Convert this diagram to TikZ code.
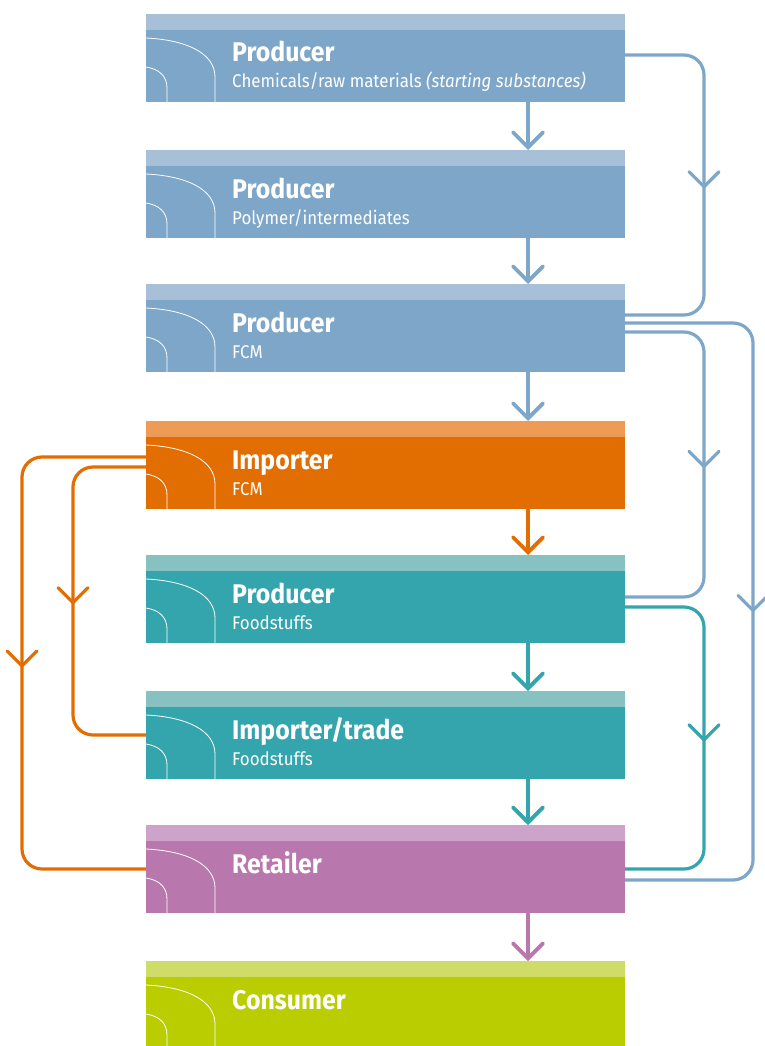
\documentclass[tikz,border=0pt]{standalone}
\usepackage{fontspec}
\setmainfont{Fira Sans}[FakeStretch=0.92]
\usetikzlibrary{arrows.meta, positioning, calc, decorations.markings}
\definecolor{blueMain}{HTML}{7EA6C8}
\definecolor{blueTop}{HTML}{A8BFD8}
\definecolor{orangeMain}{HTML}{E26D00}
\definecolor{orangeTop}{HTML}{EE9B55}
\definecolor{tealMain}{HTML}{34A5AD}
\definecolor{tealTop}{HTML}{88C1C2}
\definecolor{purpleMain}{HTML}{B878AE}
\definecolor{purpleTop}{HTML}{CDA3CA}
\definecolor{greenMain}{HTML}{B9CD00}
\definecolor{greenTop}{HTML}{CFDC6A}

\begin{document}
\begin{tikzpicture}[
    x=1pt, y=-1pt,
    stage/.style 2 args={inner sep=0pt, outer sep=0pt, minimum width=479pt, minimum height=88pt, anchor=north west, fill=#1,
        path picture={\fill[#2] (path picture bounding box.north west) rectangle ([yshift=-16pt]path picture bounding box.north east);}},
    ttl/.style={anchor=base west, inner sep=0pt, text=white, font=\fontsize{27}{27}\selectfont\bfseries},
    sub/.style={anchor=base west, inner sep=0pt, text=white, font=\fontsize{18.4}{18.4}\selectfont},
    swoop/.style={draw=white, line width=0.8pt},
    arr/.style={-{Straight Barb[length=15pt, width=30pt, line cap=round]}, line width=3.8pt},
    side/.style={line width=3.2pt, rounded corners=20pt, postaction={decorate},
        decoration={markings, mark=at position #1 with {\arrow{Straight Barb[length=15pt, width=30pt, line cap=round]}}}}
]
    \useasboundingbox (0,0) rectangle (764,1046);

    % --- Stages (top to bottom) ---
    \node[stage={blueMain}{blueTop}] (prodchem) at (146,14) {};
    \node[stage={blueMain}{blueTop}] (prodpoly) at (146,150) {};
    \node[stage={blueMain}{blueTop}] (prodfcm) at (146,284) {};
    \node[stage={orangeMain}{orangeTop}] (impfcm) at (146,421) {};
    \node[stage={tealMain}{tealTop}] (prodfood) at (146,555) {};
    \node[stage={tealMain}{tealTop}] (impfood) at (146,691) {};
    \node[stage={purpleMain}{purpleTop}] (retail) at (146,825) {};
    \node[stage={greenMain}{greenTop}] (consumer) at (146,961) {};

    % --- Decorative swoops on the left of each stage ---
    \foreach \s in {prodchem, prodpoly, prodfcm, impfcm, prodfood, impfood, retail, consumer} {
        \draw[swoop] ($(\s.north west)+(0,24)$) .. controls ($(\s.north west)+(42,26)$) and ($(\s.north west)+(69,40)$) .. ($(\s.north west)+(69,63)$) -- ($(\s.south west)+(69,0)$);
        \draw[swoop] ($(\s.north west)+(0,53)$) .. controls ($(\s.north west)+(13,55)$) and ($(\s.north west)+(21,62)$) .. ($(\s.north west)+(21,74)$) -- ($(\s.south west)+(21,0)$);
    }

    % --- Labels ---
    \node[ttl] at ($(prodchem.north west)+(86,48)$) {Producer};
    \node[sub] at ($(prodchem.north west)+(86,74)$) {Chemicals/raw materials \textit{(starting substances)}};
    \node[ttl] at ($(prodpoly.north west)+(86,48)$) {Producer};
    \node[sub] at ($(prodpoly.north west)+(86,74)$) {Polymer/intermediates};
    \node[ttl] at ($(prodfcm.north west)+(86,48)$) {Producer};
    \node[sub] at ($(prodfcm.north west)+(86,74)$) {FCM};
    \node[ttl] at ($(impfcm.north west)+(86,48)$) {Importer};
    \node[sub] at ($(impfcm.north west)+(86,74)$) {FCM};
    \node[ttl] at ($(prodfood.north west)+(86,48)$) {Producer};
    \node[sub] at ($(prodfood.north west)+(86,74)$) {Foodstuffs};
    \node[ttl] at ($(impfood.north west)+(86,48)$) {Importer/trade};
    \node[sub] at ($(impfood.north west)+(86,74)$) {Foodstuffs};
    \node[ttl] at ($(retail.north west)+(86,48)$) {Retailer};
    \node[ttl] at ($(consumer.north west)+(86,48)$) {Consumer};

    % --- Straight arrows down the chain ---
    \draw[arr, blueMain] ([xshift=142.5pt]prodchem.south) -- ([xshift=142.5pt]prodpoly.north);
    \draw[arr, blueMain] ([xshift=142.5pt]prodpoly.south) -- ([xshift=142.5pt]prodfcm.north);
    \draw[arr, blueMain] ([xshift=142.5pt]prodfcm.south) -- ([xshift=142.5pt]impfcm.north);
    \draw[arr, orangeMain] ([xshift=142.5pt]impfcm.south) -- ([xshift=142.5pt]prodfood.north);
    \draw[arr, tealMain] ([xshift=142.5pt]prodfood.south) -- ([xshift=142.5pt]impfood.north);
    \draw[arr, tealMain] ([xshift=142.5pt]impfood.south) -- ([xshift=142.5pt]retail.north);
    \draw[arr, purpleMain] ([xshift=142.5pt]retail.south) -- ([xshift=142.5pt]consumer.north);

    % --- Bypass routes on the right ---
    \draw[side=0.51, blueMain] ([yshift=3pt]prodchem.east) -- ++(79,0) |- ([yshift=13pt]prodfcm.east);
    \draw[side=0.514, blueMain] ([yshift=5pt]prodfcm.east) -- ++(128,0) |- ([yshift=-11pt]retail.east);
    \draw[side=0.51, blueMain] ([yshift=-4pt]prodfcm.east) -- ++(79,0) |- ([yshift=2pt]prodfood.east);
    \draw[side=0.51, tealMain] ([yshift=-8pt]prodfood.east) -- ++(79,0) |- (retail.east);

    % --- Bypass routes on the left ---
    \draw[side=0.508, orangeMain] ([yshift=8pt]impfcm.west) -- ++(-124,0) |- (retail.west);
    \draw[side=0.51, orangeMain] ([yshift=-2pt]impfcm.west) -- ++(-73,0) |- (impfood.west);
\end{tikzpicture}
\end{document}
